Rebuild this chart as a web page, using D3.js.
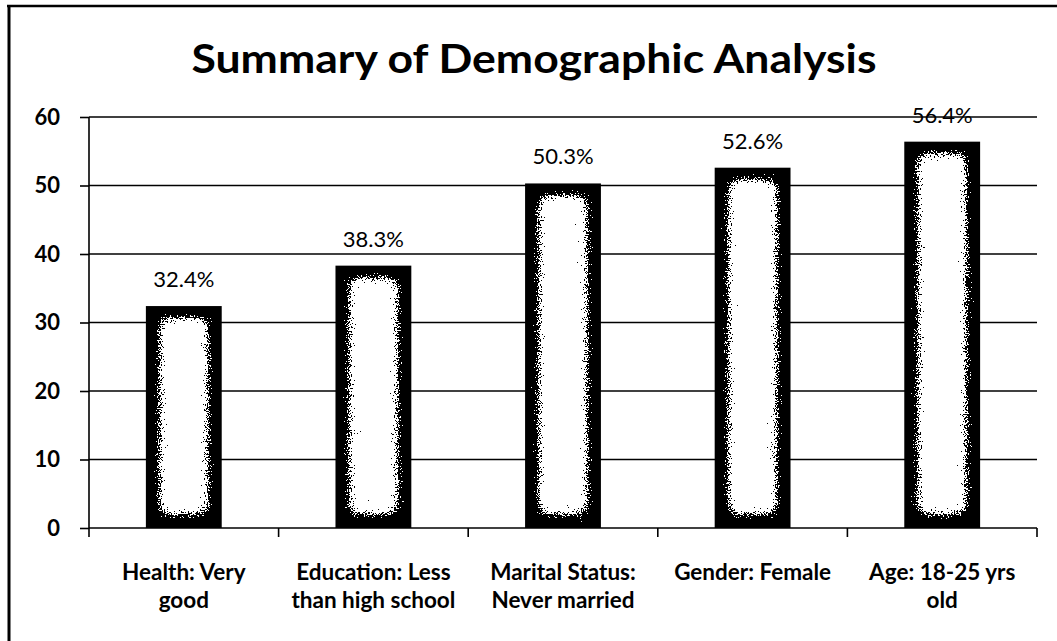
<!DOCTYPE html>
<html>
<head>
<meta charset="utf-8">
<script src="https://cdn.jsdelivr.net/npm/d3@7"></script>
<style>
  body { margin: 0; background: #fff; }
  svg { display: block; }
  text { font-family: Lato, "Open Sans", sans-serif; fill: #000; }
</style>
</head>
<body>
<svg id="chart" width="1057" height="641"></svg>
<script>
// Data
const categories = [
    ["Health: Very", "good"],
    ["Education: Less", "than high school"],
    ["Marital Status:", "Never married"],
    ["Gender: Female"],
    ["Age: 18-25 yrs", "old"]
];
const values = [32.4, 38.3, 50.3, 52.6, 56.4];
const yTicks = [0, 10, 20, 30, 40, 50, 60];
const title = "Summary of Demographic Analysis";

let svg = d3.select("#chart"),
    width = 1057,
    height = 641;

let margin = {left: 89, right: 20, top: 117, bottom: 113};

let x = d3.scaleBand()
    .domain(d3.range(categories.length))
    .range([margin.left, width - margin.right])
    .paddingInner(0.6)
    .paddingOuter(0.3);

let y = d3.scaleLinear()
    .domain([0, 60])
    .range([height - margin.bottom, margin.top]);

// textura moteada para el interior de las barras
let defs = svg.append("defs");
let f = defs.append("filter").attr("id", "speckle")
    .attr("x", "-20%").attr("y", "-20%").attr("width", "140%").attr("height", "140%");
f.append("feGaussianBlur").attr("in", "SourceGraphic").attr("stdDeviation", 7).attr("result", "blur");
f.append("feTurbulence").attr("type", "fractalNoise").attr("baseFrequency", 0.7)
    .attr("numOctaves", 3).attr("seed", 5).attr("result", "noise");
f.append("feComposite").attr("in", "blur").attr("in2", "noise").attr("operator", "arithmetic")
    .attr("k1", 0).attr("k2", 1.0).attr("k3", 1.1).attr("k4", -0.6).attr("result", "mix");
let ct = f.append("feComponentTransfer").attr("in", "mix").attr("result", "thr");
ct.append("feFuncA").attr("type", "discrete").attr("tableValues", "0 1");
f.append("feFlood").attr("flood-color", "#fff").attr("result", "white");
f.append("feComposite").attr("in", "white").attr("in2", "thr").attr("operator", "in");

// marco
svg.append("line").attr("x1", 7).attr("x2", width).attr("y1", 6).attr("y2", 6)
    .attr("stroke", "#000").attr("stroke-width", 2.5);
svg.append("line").attr("x1", 9).attr("x2", 9).attr("y1", 5).attr("y2", height)
    .attr("stroke", "#000").attr("stroke-width", 3);

// título
svg.append("text")
    .attr("x", 534).attr("y", 73)
    .attr("text-anchor", "middle")
    .attr("font-size", 40).attr("font-weight", "bold")
    .attr("textLength", 685).attr("lengthAdjust", "spacingAndGlyphs")
    .text(title);

// rejilla
svg.append("g").selectAll("line")
    .data(yTicks.filter(d => d > 0))
    .enter().append("line")
    .attr("x1", margin.left).attr("x2", width - margin.right)
    .attr("y1", d => y(d)).attr("y2", d => y(d))
    .attr("stroke", "#000").attr("stroke-width", 1.6);

// eje y
let yAxis = svg.append("g")
    .attr("transform", "translate(" + margin.left + ",0)")
    .call(d3.axisLeft(y).tickValues(yTicks).tickSize(9).tickPadding(6));
yAxis.selectAll("path, line").attr("stroke", "#000").attr("stroke-width", 1.6);
yAxis.select(".domain").attr("d", "M0," + y(60) + "V" + y(0));
yAxis.selectAll("text").attr("font-size", 22).attr("font-weight", "bold")
    .attr("font-family", "Lato, sans-serif").attr("dx", -14);

// barras
let bars = svg.append("g").selectAll("g")
    .data(values)
    .enter().append("g");

bars.append("rect")
    .attr("x", (d, i) => x(i))
    .attr("y", d => y(d))
    .attr("width", x.bandwidth())
    .attr("height", d => y(0) - y(d))
    .attr("fill", "#000");

bars.append("rect")
    .attr("x", (d, i) => x(i) + 13)
    .attr("y", d => y(d) + 11)
    .attr("width", x.bandwidth() - 26)
    .attr("height", d => y(0) - y(d) - 24)
    .attr("fill", "#fff")
    .attr("filter", "url(#speckle)");

// etiquetas de valor
bars.append("text")
    .attr("x", (d, i) => x(i) + x.bandwidth() / 2)
    .attr("y", d => y(d) - 19)
    .attr("text-anchor", "middle")
    .attr("font-size", 22)
    .text(d => d.toFixed(1) + "%");

// eje x
let step = x.step();
let x0 = margin.left;
svg.append("line")
    .attr("x1", x0).attr("x2", width - margin.right)
    .attr("y1", y(0)).attr("y2", y(0))
    .attr("stroke", "#000").attr("stroke-width", 1.6);
svg.append("g").selectAll("line")
    .data(d3.range(categories.length + 1))
    .enter().append("line")
    .attr("x1", d => x0 + d * step).attr("x2", d => x0 + d * step)
    .attr("y1", y(0)).attr("y2", y(0) + 9)
    .attr("stroke", "#000").attr("stroke-width", 1.6);

let labels = svg.append("g").selectAll("text")
    .data(categories)
    .enter().append("text")
    .attr("text-anchor", "middle")
    .attr("font-size", 22.5).attr("font-weight", "bold")
    .attr("transform", (d, i) => "translate(" + (x(i) + x.bandwidth() / 2) + "," + (y(0) + 52) + ")");

labels.selectAll("tspan")
    .data(d => d)
    .enter().append("tspan")
    .attr("x", 0)
    .attr("dy", (d, i) => i === 0 ? 0 : 28)
    .text(d => d);
</script>
</body>
</html>
